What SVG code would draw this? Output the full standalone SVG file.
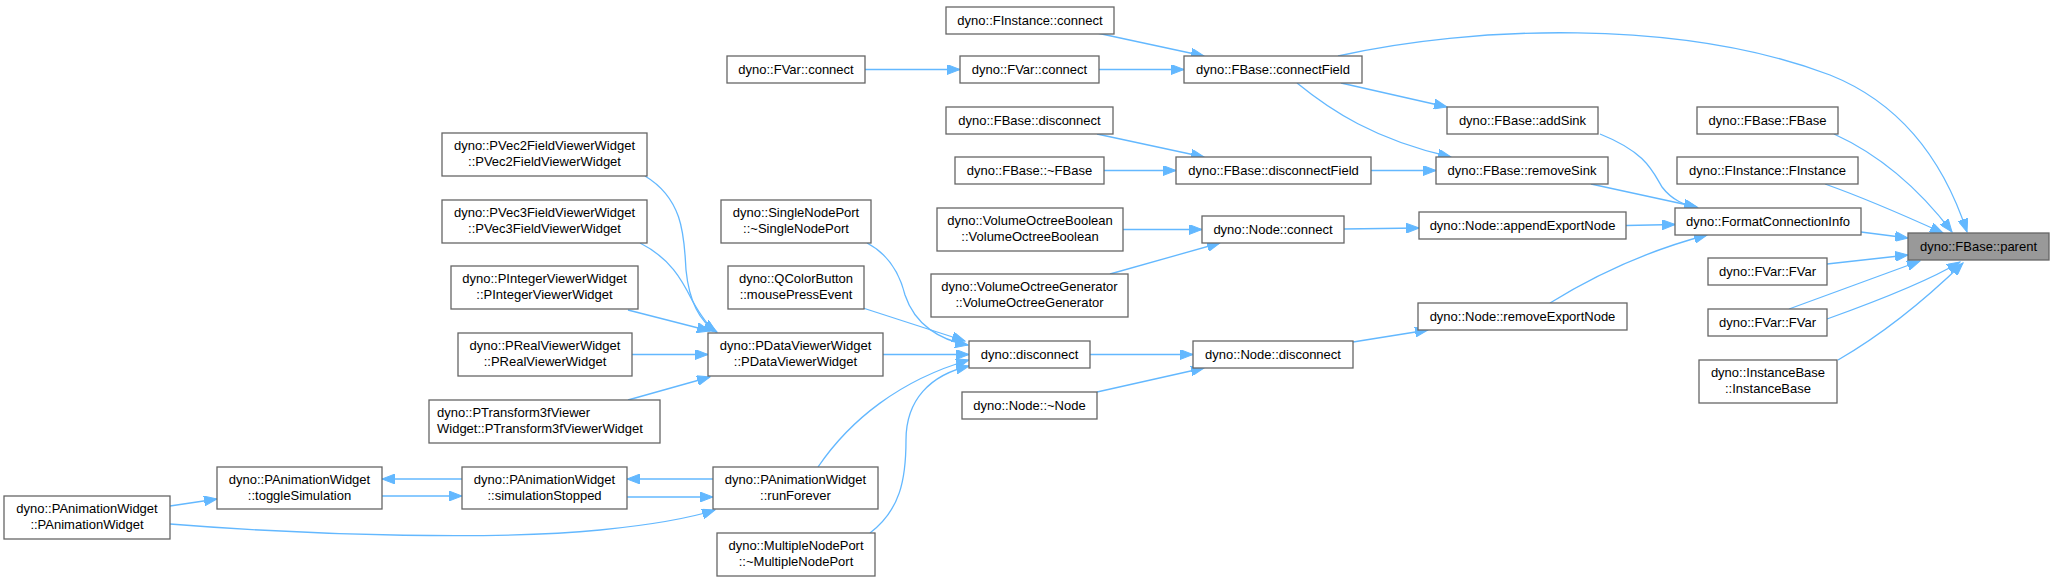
<svg xmlns="http://www.w3.org/2000/svg" width="2054" height="581" viewBox="0 0 2054 581">
<style>
.n rect{fill:#fff;stroke:#666;stroke-width:1.3}
.r rect{fill:#999;stroke:#666;stroke-width:1.3}
text{font-family:"Liberation Sans",Arial,sans-serif;font-size:13px;fill:#000;text-anchor:middle}
.l text{text-anchor:start}
.e path{fill:none;stroke:#63b8ff;stroke-width:1.3;marker-end:url(#a)}
</style>
<defs>
<marker id="a" markerUnits="userSpaceOnUse" markerWidth="14" markerHeight="10" refX="13" refY="5" orient="auto">
<path d="M0,0 L13,5 L0,10 z" fill="#63b8ff" stroke="#63b8ff"/>
</marker>
</defs>
<g id="edges" class="e">
<path d="M1097,33 L1204,56"/>
<path d="M865,69.5 L960,69.5"/>
<path d="M1099,69.5 L1184,69.5"/>
<path d="M1338,56 C1470,26 1680,18 1830,75 C1905,105 1945,165 1967,232"/>
<path d="M1341,83 L1447,107"/>
<path d="M1297,83 C1330,110 1375,140 1451,157"/>
<path d="M1097,134 L1204,157"/>
<path d="M1104,170.5 L1176,170.5"/>
<path d="M1371,170.5 L1436,170.5"/>
<path d="M1600,134 C1645,152 1652,170 1662,187 C1672,200 1684,205 1698,208"/>
<path d="M1591,184 L1697,207"/>
<path d="M1626,225.5 L1675,224.5"/>
<path d="M1344,229 L1419,228"/>
<path d="M1123,229.5 L1202,229.5"/>
<path d="M1110,274 L1220,243"/>
<path d="M1550,303 C1600,272 1650,250 1707,235"/>
<path d="M1353,342 L1428,330"/>
<path d="M1090,354.5 L1193,354.5"/>
<path d="M1097,392 L1204,368"/>
<path d="M1861,232 L1908,238"/>
<path d="M1834,134 C1880,155 1920,190 1952,232"/>
<path d="M1825,184 C1870,200 1910,218 1943,233"/>
<path d="M1827,264 L1908,255"/>
<path d="M1789,309 L1920,261"/>
<path d="M1827,319 C1880,300 1930,280 1960,262"/>
<path d="M1838,360 C1890,330 1930,295 1963,263"/>
<path d="M645,176 C685,200 684,240 686,270 C690,310 705,325 717,332"/>
<path d="M640,243 C670,258 682,280 692,300 C702,318 708,326 716,332"/>
<path d="M628,310 L710,331"/>
<path d="M632,354.5 L708,354.5"/>
<path d="M628,400 L710,377"/>
<path d="M462,479 L382,479"/>
<path d="M382,496 L462,496"/>
<path d="M713,479 L627,479"/>
<path d="M627,497 L713,497"/>
<path d="M170,506 L217,499"/>
<path d="M170,524 C320,536 500,540 600,530 C650,525 690,518 715,510"/>
<path d="M883,354.5 L969,354.5"/>
<path d="M818,467 C850,420 900,380 969,360"/>
<path d="M870,533 C900,510 906,480 906,440 C906,400 930,375 969,366"/>
<path d="M867,243 C890,255 900,275 905,295 C915,325 940,340 968,345"/>
<path d="M863,308 L965,341"/>
</g>
<g id="n1" class="n"><rect x="946" y="7" width="168" height="27"/><text x="1030" y="25">dyno::FInstance::connect</text></g>
<g id="n2" class="n"><rect x="727" y="56" width="138" height="27"/><text x="796" y="74">dyno::FVar::connect</text></g>
<g id="n3" class="n"><rect x="960" y="56" width="139" height="27"/><text x="1029.5" y="74">dyno::FVar::connect</text></g>
<g id="n4" class="n"><rect x="1184" y="56" width="178" height="27"/><text x="1273" y="74">dyno::FBase::connectField</text></g>
<g id="n5" class="n"><rect x="946" y="107" width="167" height="27"/><text x="1029.5" y="125">dyno::FBase::disconnect</text></g>
<g id="n6" class="n"><rect x="955" y="157" width="149" height="27"/><text x="1029.5" y="175">dyno::FBase::~FBase</text></g>
<g id="n7" class="n"><rect x="1176" y="157" width="195" height="27"/><text x="1273.5" y="175">dyno::FBase::disconnectField</text></g>
<g id="n8" class="n"><rect x="721" y="200" width="150" height="43"/><text x="796" y="217">dyno::SingleNodePort</text><text x="796" y="233">::~SingleNodePort</text></g>
<g id="n9" class="n"><rect x="937" y="208" width="186" height="43"/><text x="1030" y="225">dyno::VolumeOctreeBoolean</text><text x="1030" y="241">::VolumeOctreeBoolean</text></g>
<g id="n10" class="n"><rect x="1202" y="216" width="142" height="27"/><text x="1273" y="234">dyno::Node::connect</text></g>
<g id="n11" class="n"><rect x="728" y="266" width="136" height="43"/><text x="796" y="283">dyno::QColorButton</text><text x="796" y="299">::mousePressEvent</text></g>
<g id="n12" class="n"><rect x="931" y="274" width="197" height="43"/><text x="1029.5" y="291">dyno::VolumeOctreeGenerator</text><text x="1029.5" y="307">::VolumeOctreeGenerator</text></g>
<g id="n13" class="n"><rect x="1447" y="107" width="151" height="27"/><text x="1522.5" y="125">dyno::FBase::addSink</text></g>
<g id="n14" class="n"><rect x="1436" y="157" width="172" height="27"/><text x="1522" y="175">dyno::FBase::removeSink</text></g>
<g id="n15" class="n"><rect x="1419" y="212" width="207" height="27"/><text x="1522.5" y="230">dyno::Node::appendExportNode</text></g>
<g id="n16" class="n"><rect x="1697" y="107" width="141" height="27"/><text x="1767.5" y="125">dyno::FBase::FBase</text></g>
<g id="n17" class="n"><rect x="1677" y="157" width="181" height="27"/><text x="1767.5" y="175">dyno::FInstance::FInstance</text></g>
<g id="n18" class="n"><rect x="1675" y="208" width="186" height="27"/><text x="1768" y="226">dyno::FormatConnectionInfo</text></g>
<g id="n19" class="r"><rect x="1908" y="233" width="141" height="27"/><text x="1978.5" y="251">dyno::FBase::parent</text></g>
<g id="n20" class="n"><rect x="1708" y="258" width="119" height="27"/><text x="1767.5" y="276">dyno::FVar::FVar</text></g>
<g id="n21" class="n"><rect x="1418" y="303" width="209" height="27"/><text x="1522.5" y="321">dyno::Node::removeExportNode</text></g>
<g id="n22" class="n"><rect x="1708" y="309" width="119" height="27"/><text x="1767.5" y="327">dyno::FVar::FVar</text></g>
<g id="n23" class="n"><rect x="1699" y="360" width="138" height="43"/><text x="1768" y="377">dyno::InstanceBase</text><text x="1768" y="393">::InstanceBase</text></g>
<g id="n24" class="n"><rect x="442" y="133" width="205" height="43"/><text x="544.5" y="150">dyno::PVec2FieldViewerWidget</text><text x="544.5" y="166">::PVec2FieldViewerWidget</text></g>
<g id="n25" class="n"><rect x="442" y="200" width="205" height="43"/><text x="544.5" y="217">dyno::PVec3FieldViewerWidget</text><text x="544.5" y="233">::PVec3FieldViewerWidget</text></g>
<g id="n26" class="n"><rect x="451" y="266" width="187" height="43"/><text x="544.5" y="283">dyno::PIntegerViewerWidget</text><text x="544.5" y="299">::PIntegerViewerWidget</text></g>
<g id="n27" class="n"><rect x="458" y="333" width="174" height="43"/><text x="545" y="350">dyno::PRealViewerWidget</text><text x="545" y="366">::PRealViewerWidget</text></g>
<g id="n28" class="n l"><rect x="429" y="400" width="231" height="43"/><text x="437" y="417">dyno::PTransform3fViewer</text><text x="437" y="433">Widget::PTransform3fViewerWidget</text></g>
<g id="n29" class="n"><rect x="217" y="467" width="165" height="42"/><text x="299.5" y="484">dyno::PAnimationWidget</text><text x="299.5" y="500">::toggleSimulation</text></g>
<g id="n30" class="n"><rect x="462" y="467" width="165" height="42"/><text x="544.5" y="484">dyno::PAnimationWidget</text><text x="544.5" y="500">::simulationStopped</text></g>
<g id="n31" class="n"><rect x="4" y="496" width="166" height="43"/><text x="87" y="513">dyno::PAnimationWidget</text><text x="87" y="529">::PAnimationWidget</text></g>
<g id="n32" class="n"><rect x="708" y="333" width="175" height="43"/><text x="795.5" y="350">dyno::PDataViewerWidget</text><text x="795.5" y="366">::PDataViewerWidget</text></g>
<g id="n33" class="n"><rect x="969" y="341" width="121" height="27"/><text x="1029.5" y="359">dyno::disconnect</text></g>
<g id="n34" class="n"><rect x="1193" y="341" width="160" height="27"/><text x="1273" y="359">dyno::Node::disconnect</text></g>
<g id="n35" class="n"><rect x="962" y="392" width="135" height="27"/><text x="1029.5" y="410">dyno::Node::~Node</text></g>
<g id="n36" class="n"><rect x="713" y="467" width="165" height="42"/><text x="795.5" y="484">dyno::PAnimationWidget</text><text x="795.5" y="500">::runForever</text></g>
<g id="n37" class="n"><rect x="717" y="533" width="158" height="43"/><text x="796" y="550">dyno::MultipleNodePort</text><text x="796" y="566">::~MultipleNodePort</text></g>
</svg>
